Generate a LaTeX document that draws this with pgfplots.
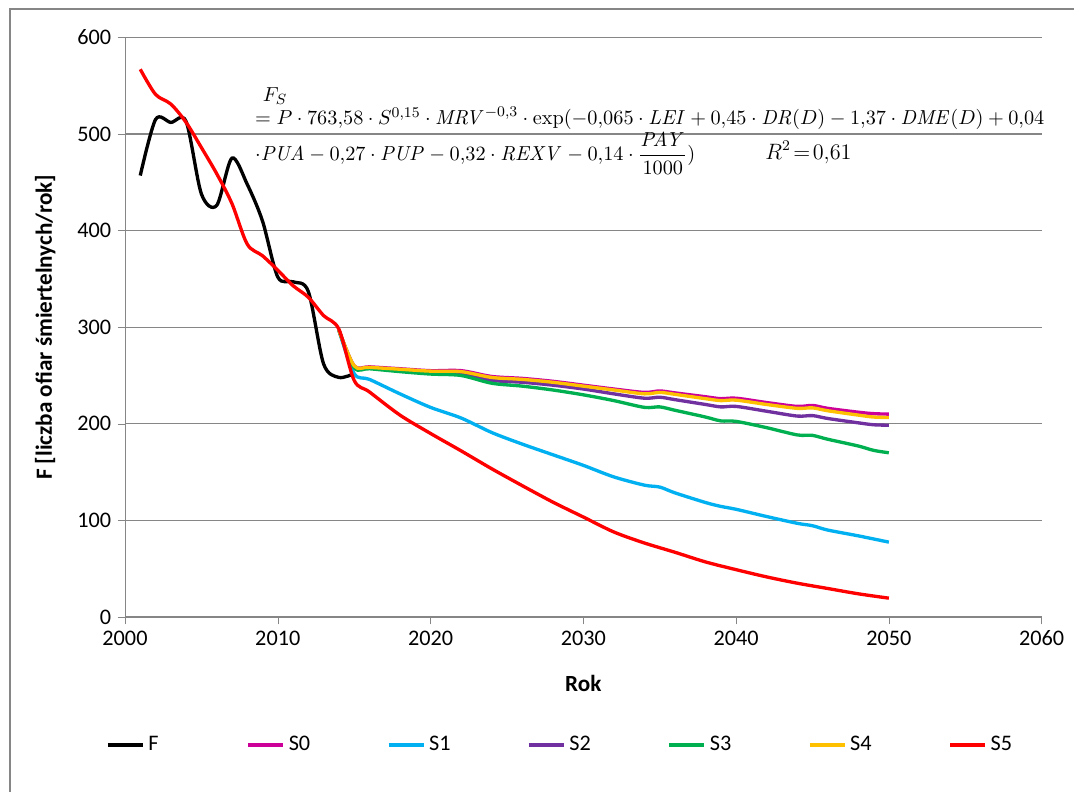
\documentclass[border=0pt]{standalone}
\usepackage[no-math]{fontspec}
\setmainfont{Carlito}
\usepackage{amsmath}
\usepackage{pgfplots}
\pgfplotsset{compat=1.18}
\definecolor{cS0}{RGB}{204,0,153}
\definecolor{cS1}{RGB}{0,176,240}
\definecolor{cS2}{RGB}{112,48,160}
\definecolor{cS3}{RGB}{0,176,80}
\definecolor{cS4}{RGB}{255,192,0}
\definecolor{cS5}{RGB}{255,0,0}
\definecolor{gridgray}{RGB}{134,134,134}

\begin{document}
\begin{tikzpicture}
\begin{axis}[
    at={(0,0)}, anchor=south west,
    scale only axis,
    width=495pt,
    height=313pt,
    xmin=2000, xmax=2060,
    ymin=0, ymax=600,
    clip=false,
    xtick={2000,2010,...,2060},
    ytick={0,100,...,600},
    axis lines*=left,
    axis line style={gridgray},
    tick align=outside,
    major tick length=4pt,
    tick style={gridgray},
    ymajorgrids,
    grid style={gridgray, line width=0.6pt},
    /pgf/number format/assume math mode=true,
    /pgf/number format/1000 sep={},
    ticklabel style={font=\fontsize{12}{14}\selectfont},
    xlabel={\textbf{Rok}},
    ylabel={\textbf{F [liczba ofiar śmiertelnych/rok]}},
    label style={font=\fontsize{12.5}{14}\selectfont},
    xlabel style={at={(axis description cs:0.5,-0.114)}, anchor=center},
    ylabel style={at={(axis description cs:-0.087,0.5)}, anchor=center},
    every axis plot/.append style={line width=1.8pt, smooth, no markers},
    legend columns=7,
    legend style={draw=none, at={(-0.027,-0.221)}, anchor=west,
        font=\fontsize{12}{14}\selectfont,
        /tikz/every even column/.append style={column sep=0pt}},
    legend image code/.code={\draw[#1] (0pt,0pt) -- (19pt,0pt);},
]
% F
\addplot[black] coordinates {
(2001,457) (2002,515) (2003,512) (2004,513) (2005,438) (2006,426) (2007,475)
(2008,448) (2009,410) (2010,352) (2011,347) (2012,337) (2013,262) (2014,248) (2015,252)
};
% S0
\addplot[cS0] coordinates {
(2014,297) (2015,260) (2016,259) (2018,257) (2020,255) (2022,255) (2024,249) (2026,247)
(2028,244) (2030,240) (2032,236) (2034,232.5) (2035,234) (2036,232) (2038,228) (2039,226)
(2040,226.5) (2042,222) (2044,218) (2045,219) (2046,216) (2048,212) (2049,210.5) (2050,210)
};
% S1
\addplot[cS1] coordinates {
(2014,297) (2015,252) (2016,246) (2018,231) (2020,217) (2022,206) (2024,191) (2026,179)
(2028,168) (2030,157) (2032,145) (2034,136.5) (2035,134.5) (2036,128.5) (2038,118.5)
(2039,114.5) (2040,111.5) (2042,104) (2044,97) (2045,94.5) (2046,90) (2048,84) (2050,77.5)
};
% S2
\addplot[cS2] coordinates {
(2014,297) (2015,259) (2016,258) (2018,255.5) (2020,253) (2022,252) (2024,245) (2026,243)
(2028,240) (2030,236) (2032,231) (2034,226.5) (2035,227.5) (2036,225) (2038,220) (2039,217.5)
(2040,218) (2042,213) (2044,208) (2045,208.5) (2046,205.5) (2048,201) (2049,199) (2050,198.5)
};
% S3
\addplot[cS3] coordinates {
(2014,297) (2015,258) (2016,257) (2018,254) (2020,251.5) (2022,250) (2024,242) (2026,239)
(2028,235) (2030,230) (2032,224) (2034,217) (2035,217.5) (2036,214) (2038,207) (2039,203)
(2040,202.5) (2042,196) (2044,188.5) (2045,188) (2046,184) (2048,177) (2049,172.5) (2050,170)
};
% S4
\addplot[cS4] coordinates {
(2014,297) (2015,260) (2016,258.5) (2018,256.5) (2020,254.5) (2022,254) (2024,248) (2026,246)
(2028,243) (2030,239) (2032,235) (2034,231) (2035,232.5) (2036,230.5) (2038,226) (2039,224)
(2040,224.5) (2042,220) (2044,216) (2045,216.5) (2046,213.5) (2048,209) (2049,207) (2050,206.5)
};
% S5
\addplot[cS5] coordinates {
(2001,567) (2002,541) (2003,531) (2004,512) (2005,486) (2006,459) (2007,428) (2008,386)
(2009,374) (2010,359) (2011,343) (2012,331) (2013,312) (2014,298) (2015,245) (2016,233)
(2018,209) (2020,190) (2022,172) (2024,153.5) (2026,136) (2028,119) (2030,103.5) (2032,88)
(2034,76.6) (2036,67) (2038,57) (2040,49) (2042,41.5) (2044,35) (2046,29.5) (2048,24) (2050,19.5)
};
\legend{\makebox[51pt][l]{F},\makebox[51pt][l]{S0},\makebox[51pt][l]{S1},\makebox[51pt][l]{S2},\makebox[51pt][l]{S3},\makebox[51pt][l]{S4},S5}

\node[anchor=west, inner sep=0pt, font=\fontsize{11}{13}\selectfont] at (axis cs:2009.0,539) {$F_S$};
\node[anchor=west, inner sep=0pt, font=\fontsize{11}{13}\selectfont] at (axis cs:2008.5,516) {$= P\cdot 763{,}58\cdot S^{0{,}15}\cdot \mathit{MRV}^{-0{,}3}\cdot \exp(-0{,}065\cdot \mathit{LEI} + 0{,}45\cdot \mathit{DR}(D) - 1{,}37\cdot \mathit{DME}(D) + 0{,}04$};
\node[anchor=west, inner sep=0pt, font=\fontsize{11}{13}\selectfont] at (axis cs:2008.5,480) {$\cdot \mathit{PUA} - 0{,}27\cdot \mathit{PUP} - 0{,}32\cdot \mathit{REXV} - 0{,}14\cdot \dfrac{\mathit{PAY}}{1000})$};
\node[anchor=west, inner sep=0pt, font=\fontsize{12}{14}\selectfont] at (axis cs:2041.9,481) {$R^2\! =\! 0{,}61$};
\end{axis}
\draw[gridgray, line width=0.7pt] (-62.1pt,-100pt) -- (-62.1pt,328.3pt) -- (520pt,328.3pt);
\pgfresetboundingbox
\path[use as bounding box] (-67.5pt,-94pt) rectangle (512.5pt,333.2pt);
\end{tikzpicture}
\end{document}
